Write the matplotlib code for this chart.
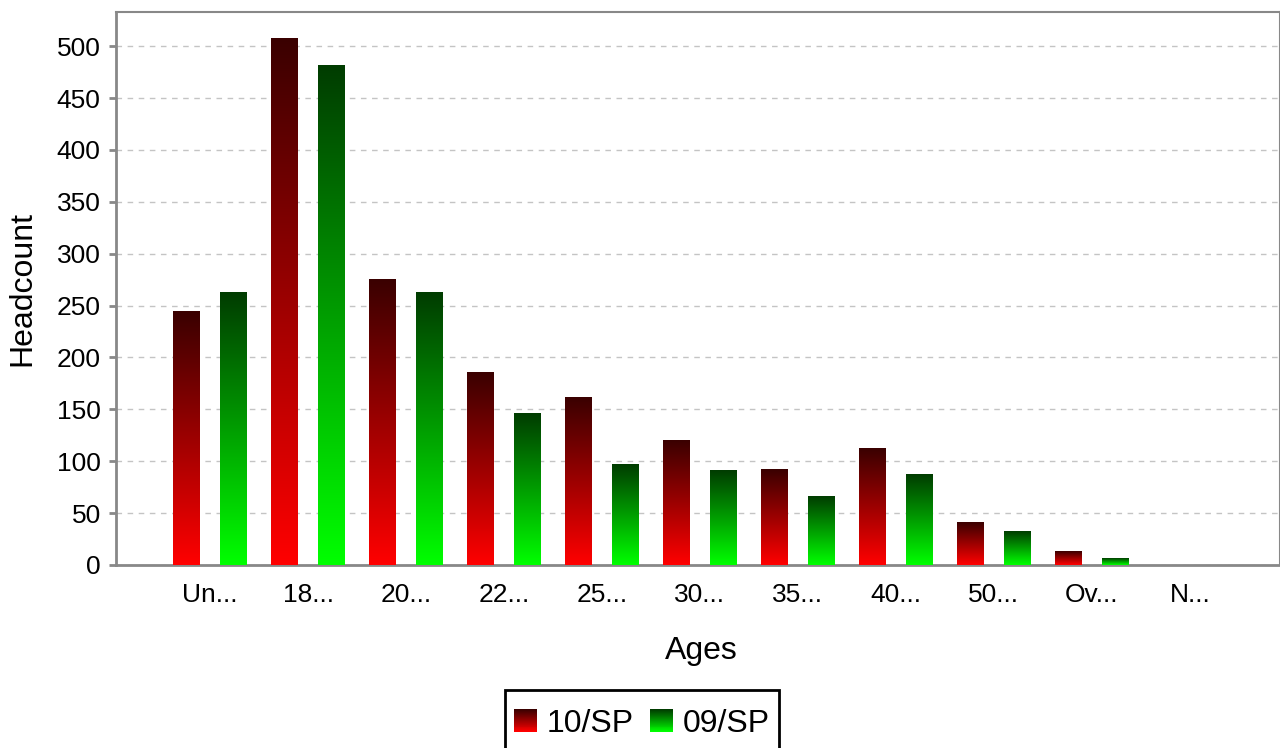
import numpy as np
import matplotlib
matplotlib.use("Agg")
import matplotlib.pyplot as plt
from matplotlib.colors import LinearSegmentedColormap
from matplotlib.patches import Rectangle
from matplotlib.legend_handler import HandlerBase

plt.rcParams['font.family'] = ['Liberation Sans', 'DejaVu Sans']

# data
categories = ['Un...', '18...', '20...', '22...', '25...', '30...',
              '35...', '40...', '50...', 'Ov...', 'N...']
series_names = ['10/SP', '09/SP']
values_10sp = [244, 507, 275, 186, 161, 120, 92, 112, 41, 13, 0]
values_09sp = [263, 481, 263, 146, 97, 91, 66, 87, 32, 6, 0]

# dark top -> bright bottom
red_cmap = LinearSegmentedColormap.from_list('redgrad', ['#ff0000', '#3a0000'])
green_cmap = LinearSegmentedColormap.from_list('greengrad', ['#00ff00', '#003c00'])


class GradientHandler(HandlerBase):
    """Legend key drawn as a stack of thin slices forming a gradient."""
    def __init__(self, cmap, n=24):
        super().__init__()
        self.cmap = cmap
        self.n = n

    def create_artists(self, legend, orig_handle, xdescent, ydescent,
                       width, height, fontsize, trans):
        x0 = -xdescent
        y0 = -ydescent
        arts = []
        for i in range(self.n):
            frac = i / (self.n - 1)
            r = Rectangle((x0, y0 + height * i / self.n), width, height / self.n + 0.3,
                          facecolor=self.cmap(frac), edgecolor='none',
                          transform=trans)
            arts.append(r)
        return arts


fig = plt.figure(figsize=(12.8, 7.48), dpi=100)
ax = fig.add_axes([116 / 1280, 1 - 565 / 748, 1 - 116 / 1280, (565 - 12) / 748])

x = np.arange(len(categories))
width = 0.275
offset = 0.243
grad = np.linspace(0, 1, 256).reshape(-1, 1)

for xs, vals, cmap in [(x - offset, values_10sp, red_cmap),
                       (x + offset, values_09sp, green_cmap)]:
    bars = ax.bar(xs, vals, width, color='none', edgecolor='none')
    for b in bars:
        h = b.get_height()
        if h <= 0:
            continue
        x0 = b.get_x()
        ax.imshow(grad, cmap=cmap, origin='lower', aspect='auto',
                  extent=[x0, x0 + b.get_width(), 0, h], zorder=3)

ax.set_xlim(-0.96, 10.92)
ax.set_ylim(0, 533)
ax.set_yticks(np.arange(0, 501, 50))
ax.set_xticks(x)
ax.set_xticklabels(categories)

ax.yaxis.grid(True, linestyle=(0, (4, 4)), color='#c4c4c4', linewidth=1)
ax.set_axisbelow(True)

for side in ['left', 'bottom', 'top', 'right']:
    ax.spines[side].set_color('#888888')
    ax.spines[side].set_linewidth(2 if side in ('left', 'bottom') else 1.5)

ax.tick_params(axis='y', length=5, width=2, color='#888888', pad=6, labelsize=19)
ax.tick_params(axis='x', length=0, pad=13, labelsize=19)

ax.set_ylabel('Headcount', fontsize=23, va='center')
ax.set_xlabel('Ages', fontsize=23, va='center')
ax.yaxis.set_label_coords((22 - 116) / 1164, 0.5)
ax.xaxis.set_label_coords((701 - 116) / 1164, (565 - 651) / 553)

# legend without its own frame; the box is drawn separately so it runs off the bottom edge
handles = [Rectangle((0, 0), 1, 1), Rectangle((0, 1), 1, 1)]
leg = fig.legend(handles, series_names, loc='center',
                 bbox_to_anchor=(642 / 1280, 1 - 724 / 748),
                 ncol=2, fontsize=23, frameon=False,
                 handlelength=0.69, handleheight=0.72, handletextpad=0.31,
                 columnspacing=0.53, borderpad=0, borderaxespad=0,
                 handler_map={handles[0]: GradientHandler(red_cmap),
                              handles[1]: GradientHandler(green_cmap)})
box = Rectangle((505 / 1280, -0.02), (779 - 505) / 1280, 0.02 + (748 - 690) / 748,
                transform=fig.transFigure, facecolor='none', edgecolor='black',
                linewidth=2, clip_on=False)
fig.add_artist(box)

fig.savefig('out.png', dpi=100)
